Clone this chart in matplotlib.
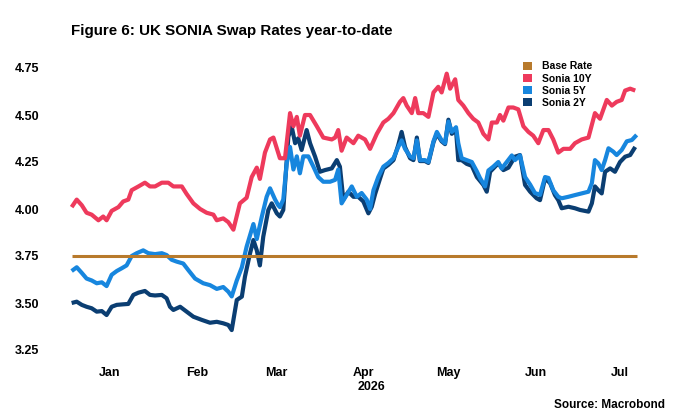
import matplotlib
matplotlib.use("Agg")
import matplotlib.pyplot as plt
import matplotlib.dates as mdates
from matplotlib.patches import Patch
import pandas as pd

plt.rcParams['font.family'] = ['Liberation Sans', 'DejaVu Sans']

START = pd.Timestamp('2026-01-01')

# ---- data: day offsets from 1 Jan 2026 and rate values (%) ----
days_10y = [1.4, 3.2, 5.0, 6.7, 8.5, 10.9, 12.6, 13.8, 15.6, 18.0, 19.7, 21.5, 22.7, 25.1, 27.4,
            29.2, 31.0, 33.4, 35.7, 37.5, 38.7, 40.5, 42.2, 44.6, 47.0, 49.3, 51.7, 52.9, 55.2,
            57.0, 58.8, 61.1, 63.5, 65.3, 67.1, 68.2, 70.0, 71.8, 73.0, 75.3, 77.1, 78.9, 80.1,
            81.3, 82.4, 84.2, 86.0, 88.4, 90.7, 93.7, 94.9, 96.0, 97.2, 99.0, 101.4, 103.1,
            105.5, 107.3, 109.7, 112.0, 113.8, 115.6, 117.9, 119.1, 120.3, 122.1, 123.3, 124.4,
            126.2, 128.0, 129.8, 131.5, 132.7, 134.5, 135.7, 137.5, 138.6, 140.4, 142.2, 143.9,
            145.7, 147.5, 149.3, 150.5, 152.3, 153.4, 154.6, 156.4, 158.1, 159.9, 161.7, 163.5,
            165.2, 167.0, 168.8, 170.6, 172.3, 174.1, 175.9, 178.3, 180.0, 182.4, 184.8, 187.1,
            188.9, 191.3, 193.1, 194.8, 196.6, 197.8, 199.6, 201.4]
sonia_10y = [4.01, 4.05, 4.02, 3.98, 3.97, 3.94, 3.96, 3.94, 3.99, 4.01, 4.04, 4.05, 4.10, 4.12, 4.14,
             4.12, 4.12, 4.14, 4.14, 4.12, 4.12, 4.12, 4.08, 4.03, 4.00, 3.98, 3.97, 3.94, 3.95,
             3.93, 3.89, 4.03, 4.06, 4.17, 4.22, 4.16, 4.30, 4.37, 4.38, 4.27, 4.27, 4.51, 4.44,
             4.49, 4.39, 4.50, 4.50, 4.44, 4.38, 4.37, 4.38, 4.42, 4.31, 4.38, 4.35, 4.39,
             4.37, 4.32, 4.40, 4.46, 4.48, 4.51, 4.57, 4.59, 4.55, 4.51, 4.59, 4.51,
             4.51, 4.49, 4.62, 4.65, 4.62, 4.72, 4.64, 4.69, 4.58, 4.55, 4.51, 4.48,
             4.46, 4.40, 4.37, 4.46, 4.46, 4.50, 4.47, 4.54, 4.54, 4.53, 4.44, 4.41,
             4.39, 4.35, 4.42, 4.42, 4.37, 4.30, 4.32, 4.32, 4.35, 4.37, 4.38, 4.51,
             4.48, 4.58, 4.55, 4.57, 4.58, 4.63, 4.64, 4.63]

days_5y = [1.4, 3.2, 5.0, 6.7, 8.5, 10.3, 12.1, 13.8, 15.6, 17.4, 19.2, 20.9, 22.7, 24.5, 26.8,
           28.6, 31.0, 33.4, 35.1, 36.9, 38.7, 41.0, 42.8, 45.2, 48.1, 50.5, 52.9, 55.2, 57.0,
           58.2, 60.0, 61.8, 63.5, 65.9, 67.1, 68.9, 70.6, 71.8, 73.6, 74.7, 75.3, 76.5, 77.7,
           78.9, 80.1, 81.3, 82.4, 83.6, 85.4, 87.2, 88.9, 90.7, 93.1, 94.9, 96.0, 97.2, 99.0,
           100.8, 102.6, 104.3, 106.1, 107.3, 108.5, 110.2, 112.0, 113.8, 115.6, 117.3, 118.5,
           119.7, 121.5, 122.7, 123.9, 125.0, 126.8, 128.0, 129.8, 131.0, 132.7, 133.9, 135.1,
           136.3, 137.8, 138.6, 139.8, 141.6, 143.4, 145.2, 146.3, 148.1, 149.3, 151.0, 152.8,
           154.0, 155.8, 157.6, 158.7, 160.5, 162.3, 164.1, 165.8, 167.6, 169.4, 170.6, 172.3,
           174.1, 175.3, 177.7, 180.0, 182.4, 184.8, 186.0, 187.1, 188.3, 189.5, 190.7, 191.9,
           193.6, 194.8, 196.6, 198.4, 200.2, 201.9]
sonia_5y = [3.67, 3.69, 3.66, 3.63, 3.62, 3.605, 3.61, 3.59, 3.65, 3.67, 3.685, 3.70, 3.75, 3.765, 3.78,
            3.765, 3.76, 3.765, 3.755, 3.73, 3.72, 3.71, 3.675, 3.63, 3.605, 3.595, 3.575, 3.585, 3.56,
            3.535, 3.62, 3.69, 3.80, 3.92, 3.84, 3.96, 4.065, 4.11, 4.05, 4.02, 4.01, 4.05, 4.24,
            4.33, 4.21, 4.28, 4.19, 4.28, 4.28, 4.225, 4.17, 4.145, 4.145, 4.155, 4.21, 4.03, 4.075,
            4.12, 4.065, 4.085, 4.05, 4.00, 4.10, 4.17, 4.225, 4.245, 4.27, 4.33, 4.365,
            4.32, 4.28, 4.27, 4.365, 4.26, 4.26, 4.25, 4.36, 4.41, 4.365, 4.35, 4.465,
            4.41, 4.435, 4.35, 4.27, 4.26, 4.25, 4.20, 4.165, 4.12, 4.205, 4.225, 4.25,
            4.215, 4.25, 4.285, 4.26, 4.285, 4.17, 4.13, 4.085, 4.075, 4.17, 4.165, 4.10,
            4.065, 4.057, 4.065, 4.074, 4.083, 4.092, 4.137, 4.26, 4.243, 4.207, 4.26, 4.323,
            4.305, 4.287, 4.314, 4.36, 4.367, 4.394]

days_2y = [1.4, 3.2, 5.0, 6.7, 8.5, 10.3, 12.1, 13.8, 15.6, 17.4, 19.7, 21.5, 23.3, 25.1, 27.4,
           29.2, 31.0, 33.4, 35.1, 36.3, 37.5, 39.9, 42.2, 44.6, 47.6, 50.5, 52.9, 55.2, 57.0,
           58.2, 60.0, 61.8, 62.9, 64.7, 65.9, 67.1, 68.2, 69.4, 71.2, 72.4, 74.2, 75.3, 76.5,
           78.3, 79.5, 80.7, 81.8, 83.0, 84.8, 86.0, 87.8, 89.5, 91.3, 93.7, 95.5, 96.6, 97.8,
           99.6, 101.4, 103.1, 104.9, 106.7, 107.9, 109.1, 110.8, 112.0, 113.8, 115.6, 117.3,
           118.5, 119.7, 121.5, 122.7, 123.9, 125.0, 126.8, 128.0, 129.8, 131.0, 132.7, 133.9,
           135.1, 136.3, 137.8, 138.6, 139.8, 141.6, 143.4, 145.2, 147.5, 148.7, 149.9, 152.8,
           154.6, 156.4, 158.7, 160.5, 162.3, 164.1, 166.4, 167.6, 169.4, 171.2, 172.9, 174.1,
           175.3, 177.7, 180.0, 181.8, 184.8, 186.0, 187.1, 188.3, 189.5, 190.7, 192.5, 194.2,
           196.0, 197.8, 199.6, 201.4]
sonia_2y = [3.50, 3.507, 3.49, 3.48, 3.472, 3.454, 3.457, 3.436, 3.48, 3.49, 3.493, 3.495, 3.543, 3.555, 3.564,
            3.543, 3.54, 3.543, 3.525, 3.48, 3.463, 3.48, 3.454, 3.427, 3.41, 3.395, 3.40, 3.392, 3.383,
            3.356, 3.516, 3.534, 3.64, 3.764, 3.835, 3.78, 3.70, 3.853, 3.995, 4.03, 3.977, 3.96, 3.995,
            4.385, 4.437, 4.35, 4.376, 4.314, 4.42, 4.35, 4.278, 4.198, 4.207, 4.216, 4.26, 4.225, 4.05,
            4.092, 4.065, 4.065, 4.04, 3.977, 4.012, 4.08, 4.16, 4.215, 4.235, 4.26, 4.34,
            4.41, 4.33, 4.27, 4.26, 4.38, 4.255, 4.255, 4.245, 4.355, 4.40, 4.36, 4.345,
            4.475, 4.40, 4.42, 4.26, 4.26, 4.24, 4.23, 4.17, 4.128, 4.092, 4.198, 4.243,
            4.207, 4.22, 4.278, 4.287, 4.128, 4.092, 4.057, 4.047, 4.163, 4.137, 4.074, 4.047,
            4.004, 4.012, 4.004, 3.995, 3.986, 4.03, 4.12, 4.10, 4.083, 4.198, 4.216, 4.198,
            4.25, 4.278, 4.287, 4.33]

days_base = [1.4, 201.9]
base_rate = [3.75, 3.75]

series_names = ['Base Rate', 'Sonia 10Y', 'Sonia 5Y', 'Sonia 2Y']
y_ticks = [3.25, 3.50, 3.75, 4.00, 4.25, 4.50, 4.75]

colors = {'Base Rate': '#B87A2C', 'Sonia 10Y': '#EE3A5C', 'Sonia 5Y': '#1786DE', 'Sonia 2Y': '#0B3E72'}


def to_dates(days):
    return START + pd.to_timedelta(days, unit='D')


fig = plt.figure(figsize=(7.0, 4.12), dpi=100)
W, H = 700, 412
ax = fig.add_axes([67.7 / W, (H - 350) / H, 594.6 / W, 291.4 / H])

ax.plot(to_dates(days_2y), sonia_2y, color=colors['Sonia 2Y'], lw=3.0, zorder=1,
        solid_joinstyle='round', solid_capstyle='butt')
ax.plot(to_dates(days_5y), sonia_5y, color=colors['Sonia 5Y'], lw=3.0, zorder=2,
        solid_joinstyle='round', solid_capstyle='butt')
ax.plot(to_dates(days_10y), sonia_10y, color=colors['Sonia 10Y'], lw=3.0, zorder=3,
        solid_joinstyle='round', solid_capstyle='butt')
ax.plot(to_dates(days_base), base_rate, color=colors['Base Rate'], lw=2.2, zorder=4,
        solid_capstyle='butt')

ax.set_xlim(START, START + pd.Timedelta(days=211))
ax.set_ylim(3.25, 4.80)

for s in ax.spines.values():
    s.set_visible(False)

ax.set_yticks(y_ticks)
ax.set_yticklabels([f'{v:.2f}' for v in y_ticks])
ax.tick_params(axis='y', length=0, pad=38, labelsize=9)
for lab in ax.get_yticklabels():
    lab.set_horizontalalignment('left')
    lab.set_fontweight('bold')

ax.xaxis.set_major_locator(mdates.MonthLocator(bymonthday=16))
ax.xaxis.set_major_formatter(mdates.DateFormatter('%b'))
ax.tick_params(axis='x', length=0, pad=12, labelsize=9)
for lab in ax.get_xticklabels():
    lab.set_fontweight('bold')

fig.text(371 / W, 1 - 387 / H, '2026', ha='center', va='center', fontsize=9, fontweight='bold')
fig.text(71 / W, 1 - 31 / H, 'Figure 6: UK SONIA Swap Rates year-to-date', ha='left', va='center',
         fontsize=10.9, fontweight='bold')
fig.text(665 / W, 1 - 405 / H, 'Source: Macrobond', ha='right', va='center', fontsize=8.5,
         fontweight='bold')

handles = [Patch(facecolor=colors[n], edgecolor='none', label=n) for n in series_names]
leg = ax.legend(handles=handles, loc='upper left', bbox_to_anchor=(518 / W, 1 - 56 / H),
                bbox_transform=fig.transFigure, frameon=False, fontsize=7.5,
                handlelength=0.8, handleheight=0.8, handletextpad=1.0, labelspacing=0.22,
                borderpad=0)
for t in leg.get_texts():
    t.set_fontweight('bold')

fig.savefig('out.png', dpi=100)
